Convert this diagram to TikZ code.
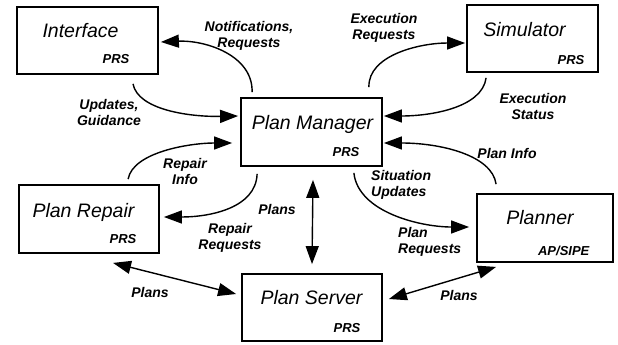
\documentclass[tikz,border=0pt]{standalone}
\usepackage{fontspec}
\setmainfont{Liberation Sans}
\usetikzlibrary{arrows.meta}

\begin{document}
\begin{tikzpicture}[x=1pt, y=-1pt,
  box/.style={draw, line width=1.8pt, inner sep=0pt},
  title/.style={font=\fontsize{19.5}{23}\selectfont\itshape, anchor=base},
  tag/.style={font=\fontsize{13}{15}\selectfont\bfseries\itshape, anchor=base east},
  lbl/.style={font=\fontsize{14}{16}\selectfont\bfseries\itshape, align=center, inner sep=0pt},
  flow/.style={line width=1.4pt, -{Triangle[length=18pt,width=13pt]}},
  both/.style={line width=1.4pt, {Triangle[length=18pt,width=13pt]}-{Triangle[length=18pt,width=13pt]}}]
\useasboundingbox (0,0) rectangle (618,345);

% boxes
\node[box, minimum width=141pt, minimum height=67pt] (intf) at (87.5,40.5) {};
\node[title] (intft) at ([xshift=-7pt,yshift=-31pt]intf.north) {Interface};
\node[tag] (intfs) at ([xshift=-26pt,yshift=11pt]intf.south east) {PRS};

\node[box, minimum width=131pt, minimum height=67pt] (sim) at (532.5,38.5) {};
\node[title] (simt) at ([xshift=-8pt,yshift=-32pt]sim.north) {Simulator};
\node[tag] (sims) at ([xshift=-11pt,yshift=8pt]sim.south east) {PRS};

\node[box, minimum width=141pt, minimum height=68pt] (pm) at (311.5,132) {};
\node[title] (pmt) at ([xshift=1pt,yshift=-32pt]pm.north) {Plan Manager};
\node[tag] (pms) at ([xshift=-20pt,yshift=10pt]pm.south east) {PRS};

\node[box, minimum width=140pt, minimum height=68pt] (repair) at (89,219) {};
\node[title] (repairt) at ([xshift=-5.5pt,yshift=-33pt]repair.north) {Plan Repair};
\node[tag] (repairs) at ([xshift=-20pt,yshift=10pt]repair.south east) {PRS};

\node[box, minimum width=136pt, minimum height=68pt] (planner) at (545,228) {};
\node[title] (plannert) at ([xshift=-5pt,yshift=-31pt]planner.north) {Planner};
\node[tag] (planners) at ([xshift=-21pt,yshift=7pt]planner.south east) {AP/SIPE};

\node[box, minimum width=140pt, minimum height=67pt] (server) at (312,307.5) {};
\node[title] (servert) at ([xshift=-0.5pt,yshift=-31pt]server.north) {Plan Server};
\node[tag] (servers) at ([xshift=-19pt,yshift=9pt]server.south east) {PRS};

% flows
\draw[flow] ([xshift=12pt,yshift=5pt]pm.north west) .. controls (253,55) and (205,40) .. ([xshift=2pt,yshift=-1.5pt]intf.east);
\draw[flow] ([xshift=45.5pt,yshift=-9pt]intf.south) .. controls (138,110) and (190,117) .. ([xshift=-2pt,yshift=16pt]pm.west);
\draw[flow] ([xshift=-14pt,yshift=10pt]pm.north east) .. controls (368,55) and (420,43) .. ([xshift=-1pt,yshift=-4.5pt]sim.west);
\draw[flow] ([xshift=20pt,yshift=-5pt]sim.south west) .. controls (482,108) and (430,116) .. ([xshift=1pt,yshift=16pt]pm.east);
\draw[flow] ([xshift=110pt,yshift=5pt]repair.north west) .. controls (133,152) and (190,143) .. ([xshift=-8pt,yshift=-11pt]pm.west);
\draw[flow] ([xshift=17pt,yshift=-7pt]pm.south west) .. controls (256,208) and (210,217) .. ([xshift=4pt,yshift=2pt]repair.east);
\draw[flow] ([xshift=20pt,yshift=9pt]planner.north west) .. controls (492,155) and (440,143) .. ([xshift=1pt,yshift=-11pt]pm.east);
\draw[flow] ([xshift=-29pt,yshift=-6pt]pm.south east) .. controls (358,212) and (420,227) .. ([xshift=-7pt,yshift=1pt]planner.west);
\draw[both] ([xshift=1.5pt,yshift=-13pt]pm.south) -- ([yshift=9pt]server.north);
\draw[both] ([xshift=24pt,yshift=-9pt]repair.south) -- ([xshift=-5pt,yshift=13.5pt]server.west);
\draw[both] ([xshift=6pt,yshift=8.5pt]server.east) -- ([xshift=20pt,yshift=-4pt]planner.south west);

% labels
\node[lbl] (notif) at (249,36) {Notifications,\\Requests};
\node[lbl] (execreq) at (384,28) {Execution\\Requests};
\node[lbl] (updates) at (109,112) {Updates,\\Guidance};
\node[lbl] (execstat) at (533,106) {Execution\\Status};
\node[lbl] (repinfo) at (185,171.5) {Repair\\Info};
\node[lbl] (planinfo) at (507,153.5) {Plan Info};
\node[lbl, align=left, anchor=west] (situp) at (371,185) {Situation\\Updates};
\node[lbl] (plansmid) at (277,209.5) {Plans};
\node[lbl] (repreq) at (230,238) {Repair\\Requests};
\node[lbl, align=left, anchor=west] (planreq) at (398,242) {Plan\\Requests};
\node[lbl] (plansleft) at (150,292.5) {Plans};
\node[lbl] (plansright) at (459,295.5) {Plans};

\end{tikzpicture}
\end{document}
